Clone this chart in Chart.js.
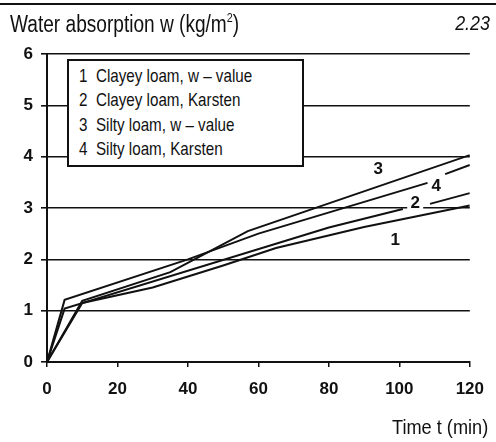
<!DOCTYPE html>
<html>
<head>
<meta charset="utf-8">
<script src="https://cdn.jsdelivr.net/npm/chart.js@4.4.1/dist/chart.umd.min.js"></script>
<style>
    html, body { margin: 0; padding: 0; background: #fff; }
    #wrap { position: relative; width: 496px; height: 442px; overflow: hidden; }
    #topRule { position: absolute; left: 0; top: 3px; width: 496px; height: 2px; background: #111; }
    .txt { position: absolute; font-family: 'Liberation Sans', Arial, sans-serif; color: #111; white-space: pre; }
    #title { left: 10px; top: 10px; font-size: 23px; transform: scaleX(0.83); transform-origin: left top; }
    #title sup { font-size: 13px; vertical-align: 10px; }
    #figNo { right: 6px; top: 11px; font-size: 21px; font-style: italic; transform: scaleX(0.85); transform-origin: right top; }
    #xTitle { right: 8px; top: 415px; font-size: 21px; transform: scaleX(0.865); transform-origin: right top; }
    #legend { position: absolute; left: 67px; top: 59px; width: 237px; height: 108px; border: 2px solid #111;
              background: #fff; padding: 3px 0 0 10px; box-sizing: border-box; }
    #legend div { font-family: 'Liberation Sans', Arial, sans-serif; font-size: 19px; line-height: 24.3px; color: #111;
                  white-space: pre; transform: scaleX(0.8); transform-origin: left center; }
</style>
</head>
<body>
<div id="wrap">
    <canvas id="chart" width="496" height="442"></canvas>
    <div id="topRule"></div>
    <div class="txt" id="title">Water absorption w (kg/m<sup>2</sup>)</div>
    <div class="txt" id="figNo">2.23</div>
    <div class="txt" id="xTitle">Time t (min)</div>
    <div id="legend"></div>
</div>
<script>
// Axis ticks
const xTicks = [0, 20, 40, 60, 80, 100, 120];
const yTicks = [0, 1, 2, 3, 4, 5, 6];

// Series names (legend)
const seriesNames = [
    '1  Clayey loam, w \u2013 value',
    '2  Clayey loam, Karsten',
    '3  Silty loam, w \u2013 value',
    '4  Silty loam, Karsten'
];

// Curve 1: Clayey loam, w-value
const line1T = [0, 10, 30, 50, 65, 90, 120];
const line1W = [0, 1.15, 1.45, 1.88, 2.22, 2.63, 3.05];
// Curve 2: Clayey loam, Karsten (broken where the label sits)
const line2T = [0, 5, 80, 101, 105, 108.7, 120];
const line2W = [0, 1.04, 2.62, 2.98, null, 3.08, 3.29];
// Curve 3: Silty loam, w-value
const line3T = [0, 10, 35, 57, 120];
const line3W = [0, 1.19, 1.75, 2.55, 4.03];
// Curve 4: Silty loam, Karsten (broken where the label sits)
const line4T = [0, 5, 40, 60, 108, 110, 113, 120];
const line4W = [0, 1.21, 2.0, 2.5, 3.49, null, 3.66, 3.84];

// Curve number labels (t, w)
const curveLabels = ['1', '2', '3', '4'];
const curveLabelT = [98.8, 104.5, 94, 110.5];
const curveLabelW = [2.37, 3.09, 3.75, 3.43];

document.getElementById('legend').innerHTML = seriesNames.map(n => '<div>' + n + '</div>').join('');

function toPoints(ts, ws) {
    return ts.map((t, i) => ({ x: t, y: ws[i] }));
}

// draws the curve numbers next to the lines (white patch hides the grid line behind "2")
const curveLabelPlugin = {
    id: 'curveLabels',
    afterDatasetsDraw(chart) {
        const ctx = chart.ctx;
        const xs = chart.scales.x, ys = chart.scales.y;
        ctx.save();
        ctx.font = 'bold 17px "Liberation Sans", Arial, sans-serif';
        ctx.textAlign = 'center';
        ctx.textBaseline = 'middle';
        curveLabels.forEach((lab, i) => {
            const px = xs.getPixelForValue(curveLabelT[i]);
            const py = ys.getPixelForValue(curveLabelW[i]);
            ctx.fillStyle = '#fff';
            ctx.fillRect(px - 8, py - 9, 16, 18);
            ctx.fillStyle = '#111';
            ctx.fillText(lab, px, py);
        });
        ctx.restore();
    }
};

const lineStyle = {
    borderColor: '#111',
    borderWidth: 2,
    pointRadius: 0,
    tension: 0,
    fill: false,
    spanGaps: false
};

new Chart(document.getElementById('chart'), {
    type: 'line',
    data: {
        datasets: [
            Object.assign({ label: seriesNames[0], data: toPoints(line1T, line1W) }, lineStyle),
            Object.assign({ label: seriesNames[1], data: toPoints(line2T, line2W) }, lineStyle),
            Object.assign({ label: seriesNames[2], data: toPoints(line3T, line3W) }, lineStyle),
            Object.assign({ label: seriesNames[3], data: toPoints(line4T, line4W) }, lineStyle)
        ]
    },
    options: {
        responsive: false,
        animation: false,
        layout: { padding: { left: 0, top: 54, right: 24, bottom: 0 } },
        plugins: {
            legend: { display: false },
            tooltip: { enabled: false }
        },
        scales: {
            x: {
                type: 'linear',
                min: 0,
                max: 120,
                afterBuildTicks: s => { s.ticks = xTicks.map(v => ({ value: v })); },
                afterFit: s => { s.height = 80; },
                border: { display: true, color: '#111', width: 2 },
                grid: { drawOnChartArea: false, drawTicks: true, tickLength: 5, color: '#111', lineWidth: 1.5 },
                ticks: {
                    color: '#111',
                    padding: 12,
                    maxRotation: 0,
                    font: { family: '"Liberation Sans", Arial, sans-serif', size: 17, weight: 'bold' }
                }
            },
            y: {
                type: 'linear',
                min: 0,
                max: 6,
                afterBuildTicks: s => { s.ticks = yTicks.map(v => ({ value: v })); },
                afterFit: s => { s.width = 47; },
                border: { display: true, color: '#111', width: 2 },
                grid: { drawOnChartArea: true, drawTicks: true, tickLength: 6, color: '#111', lineWidth: 1.6 },
                ticks: {
                    color: '#111',
                    padding: 8,
                    font: { family: '"Liberation Sans", Arial, sans-serif', size: 17, weight: 'bold' }
                }
            }
        }
    },
    plugins: [curveLabelPlugin]
});
</script>
</body>
</html>
